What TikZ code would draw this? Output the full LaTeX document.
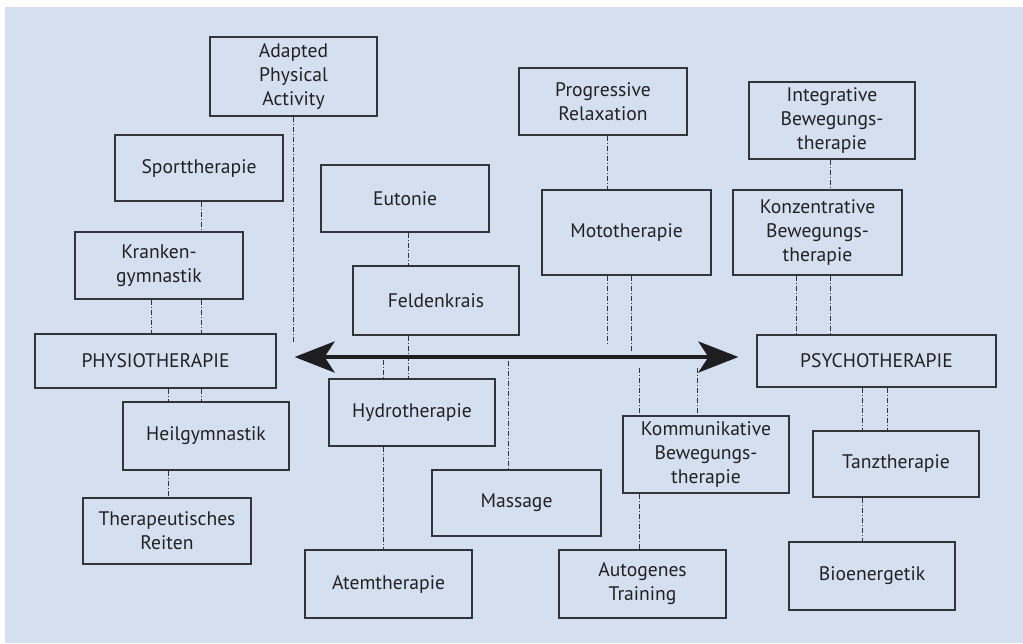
\documentclass[tikz,border=0pt]{standalone}
\usepackage{fontspec}
\setmainfont{PT Sans}
\usetikzlibrary{arrows.meta}
\definecolor{bgc}{RGB}{212,223,240}
\definecolor{boxc}{RGB}{50,52,56}
\definecolor{txt}{RGB}{35,32,34}
\definecolor{arr}{RGB}{30,30,32}
\tikzset{
  box/.style={draw=boxc, line width=1.2pt, align=center, inner sep=0pt, text=txt,
    font=\fontsize{19.6}{24}\selectfont},
  conn/.style={draw=boxc, line width=1pt, dash pattern=on 5pt off 2pt on 1pt off 2pt},
  bigarrow/.style={draw=arr, line width=4pt, {Stealth[length=40pt,width=31pt,inset=10pt]}-{Stealth[length=40pt,width=31pt,inset=10pt]}}
}
\begin{document}
\begin{tikzpicture}[x=1pt,y=-1pt]
\useasboundingbox (0,0) rectangle (1023,643);
\fill[white] (0,0) rectangle (1023,643);
\fill[bgc] (5,7) rectangle (1023,643);

\node[box, minimum width=167pt, minimum height=79pt] (apa) at (293.5,76.5) {Adapted\\Physical\\Activity};
\node[box, minimum width=168pt, minimum height=66pt] (sport) at (199,168) {Sporttherapie};
\node[box, minimum width=168pt, minimum height=67pt] (kranken) at (159,265.5) {Kranken-\\gymnastik};
\node[box, minimum width=241pt, minimum height=54pt] (physio) at (155.5,361) {PHYSIOTHERAPIE};
\node[box, minimum width=166pt, minimum height=68pt] (heil) at (206,436) {Heilgymnastik};
\node[box, minimum width=168pt, minimum height=66pt] (reiten) at (167,531) {Therapeutisches\\Reiten};
\node[box, minimum width=168pt, minimum height=67pt] (eutonie) at (405,198.5) {Eutonie};
\node[box, minimum width=166pt, minimum height=69pt] (feld) at (436,300.5) {Feldenkrais};
\node[box, minimum width=168pt, minimum height=67pt] (prog) at (603,101.5) {Progressive\\Relaxation};
\node[box, minimum width=169pt, minimum height=85pt] (moto) at (626.5,232.5) {Mototherapie};
\node[box, minimum width=166pt, minimum height=77pt] (integ) at (832,120.5) {Integrative\\Bewegungs-\\therapie};
\node[box, minimum width=169pt, minimum height=85pt] (konz) at (817.5,232.5) {Konzentrative\\Bewegungs-\\therapie};
\node[box, minimum width=239pt, minimum height=52pt] (psycho) at (876.5,361) {PSYCHOTHERAPIE};
\node[box, minimum width=166pt, minimum height=67pt] (hydro) at (412,412.5) {Hydrotherapie};
\node[box, minimum width=167pt, minimum height=68pt] (atem) at (388.5,584) {Atemtherapie};
\node[box, minimum width=169pt, minimum height=66pt] (massage) at (516.5,503) {Massage};
\node[box, minimum width=166pt, minimum height=77pt] (komm) at (706,454.5) {Kommunikative\\Bewegungs-\\therapie};
\node[box, minimum width=167pt, minimum height=68pt] (auto) at (642.5,584) {Autogenes\\Training};
\node[box, minimum width=166pt, minimum height=66pt] (tanz) at (896,464) {Tanztherapie};
\node[box, minimum width=166pt, minimum height=68pt] (bio) at (872,576) {Bioenergetik};

\coordinate (apaE) at (293,342);
\draw[conn] (apa.south -| apaE) -- (apaE);
\draw[conn] (sport.south -| 201,0) -- (kranken.north -| 201,0);
\draw[conn] (kranken.south -| 151,0) -- (physio.north -| 151,0);
\draw[conn] (kranken.south -| 201,0) -- (physio.north -| 201,0);
\draw[conn] (physio.south -| 168,0) -- (heil.north -| 168,0);
\draw[conn] (physio.south -| 201,0) -- (heil.north -| 201,0);
\draw[conn] (heil.south -| 168,0) -- (reiten.north -| 168,0);
\draw[conn] (eutonie.south -| 408,0) -- (feld.north -| 408,0);
\draw[conn] (feld.south -| 408,0) -- (hydro.north -| 408,0);
\coordinate (hydE) at (383,360);
\draw[conn] (hydE) -- (hydro.north -| hydE);
\draw[conn] (hydro.south -| 383,0) -- (atem.north -| 383,0);
\coordinate (masE) at (508,361);
\draw[conn] (masE) -- (massage.north -| masE);
\draw[conn] (prog.south -| 607,0) -- (moto.north -| 607,0);
\coordinate (motE1) at (607,343);
\coordinate (motE2) at (631,351);
\draw[conn] (moto.south -| motE1) -- (motE1);
\draw[conn] (moto.south -| motE2) -- (motE2);
\coordinate (komE1) at (639,368);
\coordinate (komE2) at (697,368);
\draw[conn] (komE1) -- (komm.north -| komE1);
\draw[conn] (komE2) -- (komm.north -| komE2);
\draw[conn] (komm.south -| 639,0) -- (auto.north -| 639,0);
\draw[conn] (integ.south -| 830,0) -- (konz.north -| 830,0);
\draw[conn] (konz.south -| 796,0) -- (psycho.north -| 796,0);
\draw[conn] (konz.south -| 830,0) -- (psycho.north -| 830,0);
\draw[conn] (psycho.south -| 862,0) -- (tanz.north -| 862,0);
\draw[conn] (psycho.south -| 887,0) -- (tanz.north -| 887,0);
\draw[conn] (tanz.south -| 862,0) -- (bio.north -| 862,0);

\draw[bigarrow] ([shift={(18,-4)}]physio.east) -- ([shift={(-18,-4)}]psycho.west);
\end{tikzpicture}
\end{document}
